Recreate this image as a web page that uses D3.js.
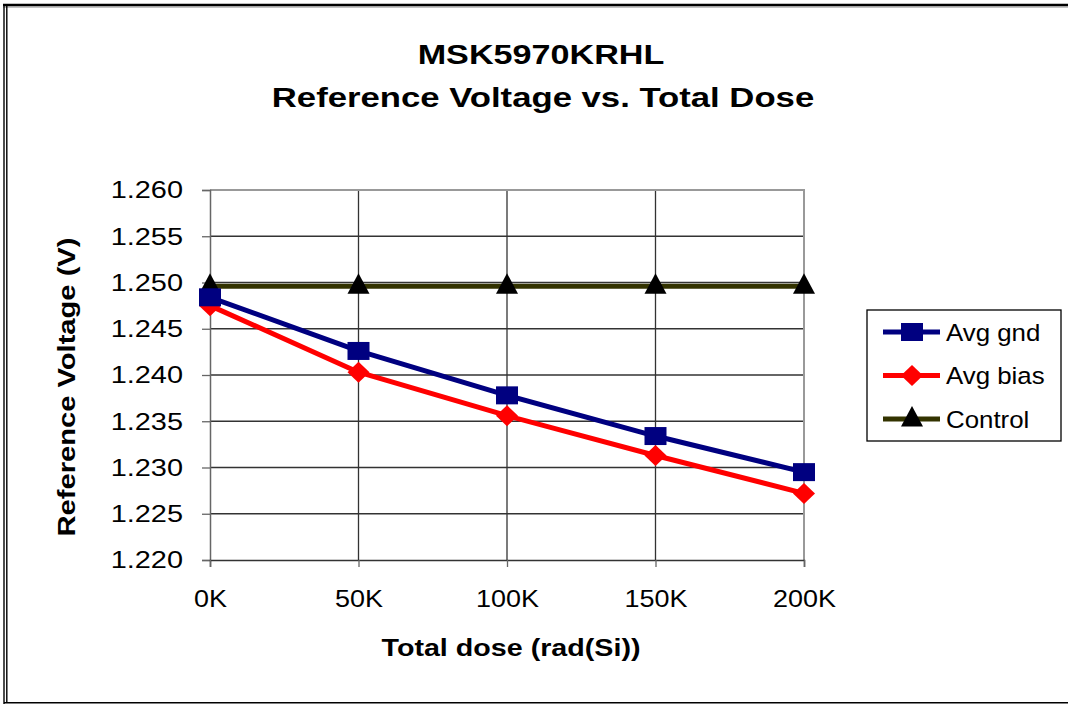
<!DOCTYPE html>
<html><head><meta charset="utf-8">
<script src="https://cdn.jsdelivr.net/npm/d3@7"></script>
<style>
body{margin:0;background:#fff;overflow:hidden;}
svg{display:block;font-family:"Liberation Sans",Arial,sans-serif;}
</style></head>
<body>
<svg id="c" width="1068" height="704"></svg>
<script>
const categories = ["0K","50K","100K","150K","200K"];
const doses = [0, 50, 100, 150, 200];
const avgGnd = [1.2484, 1.2426, 1.2378, 1.2334, 1.2295];
const avgBias = [1.2475, 1.2403, 1.2356, 1.2313, 1.2272];
const control = [1.2496, 1.2496, 1.2496, 1.2496, 1.2496];
const yTicks = [1.220,1.225,1.230,1.235,1.240,1.245,1.250,1.255,1.260];
const seriesNames = ["Avg gnd","Avg bias","Control"];

const svg = d3.select("#c");
// stretch helper: text drawn with horizontal stretch around its anchor
function stretch(sel, sx){
  sel.each(function(){
    const t = d3.select(this);
    const x0 = +t.attr("x")||0, y0 = +t.attr("y")||0;
    const prev = t.attr("transform")||"";
    t.attr("x",0).attr("y",0).attr("transform",`${prev} translate(${x0},${y0}) scale(${sx},1)`);
  });
}

// outer frame
svg.append("line").attr("x1",3).attr("x2",1068).attr("y1",5).attr("y2",5).attr("stroke","#000").attr("stroke-width",2.6);
svg.append("line").attr("x1",3).attr("x2",1068).attr("y1",7).attr("y2",7).attr("stroke","#888").attr("stroke-width",1);
svg.append("line").attr("x1",4).attr("x2",4).attr("y1",4).attr("y2",704).attr("stroke","#000").attr("stroke-width",1.4);
svg.append("line").attr("x1",6.8).attr("x2",6.8).attr("y1",6).attr("y2",703).attr("stroke","#000").attr("stroke-width",1.4);
svg.append("line").attr("x1",4).attr("x2",1068).attr("y1",702.8).attr("y2",702.8).attr("stroke","#000").attr("stroke-width",1.4);

const L=210, R=804, T=190, B=560;
const x = d3.scalePoint().domain(doses).range([L,R]);
const y = d3.scaleLinear().domain([1.220,1.260]).range([B,T]);

// gridlines
svg.append("g").selectAll("line").data(yTicks.slice(1,-1)).join("line")
  .attr("x1",L).attr("x2",R).attr("y1",d=>y(d)).attr("y2",d=>y(d))
  .attr("stroke","#333").attr("stroke-width",1.3);
svg.append("g").selectAll("line").data(doses.slice(1,-1)).join("line")
  .attr("x1",d=>x(d)).attr("x2",d=>x(d)).attr("y1",T).attr("y2",B)
  .attr("stroke","#333").attr("stroke-width",1.3);
// plot border top/right
svg.append("path").attr("d",`M${L},${T}H${R}V${B}`).attr("fill","none").attr("stroke","#999").attr("stroke-width",2);

// axes
const yAxis = svg.append("g").attr("transform",`translate(${L},0)`)
  .call(d3.axisLeft(y).tickValues(yTicks).tickFormat(d3.format(".3f")).tickSize(8).tickPadding(19));
const xAxis = svg.append("g").attr("transform",`translate(0,${B})`)
  .call(d3.axisBottom(x).tickFormat((d,i)=>categories[i]).tickSize(7).tickPadding(23));
[yAxis,xAxis].forEach(g=>{
  g.select(".domain").attr("stroke","#666").attr("stroke-width",1.5);
  g.selectAll(".tick line").attr("stroke","#666").attr("stroke-width",1.3);
  g.selectAll("text").attr("font-size",24.5).attr("fill","#000").attr("font-family","Liberation Sans, Arial, sans-serif");
});
xAxis.select(".domain").attr("stroke","#333");
xAxis.selectAll(".tick text").attr("dy","0.71em");
stretch(yAxis.selectAll(".tick text"),1.18);
stretch(xAxis.selectAll(".tick text"),1.1);

// title
const t1 = svg.append("text").attr("x",541).attr("y",64).attr("text-anchor","middle")
  .attr("font-size",28).attr("font-weight","bold").text("MSK5970KRHL");
const t2 = svg.append("text").attr("x",543).attr("y",107).attr("text-anchor","middle")
  .attr("font-size",28).attr("font-weight","bold").text("Reference Voltage vs. Total Dose");
stretch(t1,1.22); stretch(t2,1.24);
// axis titles
const xt = svg.append("text").attr("x",511).attr("y",656).attr("text-anchor","middle")
  .attr("font-size",24.5).attr("font-weight","bold").text("Total dose (rad(Si))");
stretch(xt,1.17);
svg.append("text").attr("transform","translate(75,387) rotate(-90) scale(1.19,1)").attr("text-anchor","middle")
  .attr("font-size",24.5).attr("font-weight","bold").text("Reference Voltage (V)");

// markers (custom shapes, slightly wider than tall like the source)
const shapes = {
  square: "M-11,-9H11V9H-11Z",
  diamond: "M0,-10.5L11,0L0,10.5L-11,0Z",
  triangle: "M0,-13L11,7.5H-11Z"
};
const line = d3.line().x((d,i)=>x(doses[i])).y(d=>y(d));
const series = [
  {name:seriesNames[0], vals:avgGnd, color:"#000080", mfill:"#000080", shape:shapes.square},
  {name:seriesNames[1], vals:avgBias, color:"#FF0000", mfill:"#FF0000", shape:shapes.diamond},
  {name:seriesNames[2], vals:control, color:"#333300", mfill:"#000000", shape:shapes.triangle},
];
series.slice().reverse().forEach(s=>{
  svg.append("path").datum(s.vals).attr("d",line).attr("fill","none")
    .attr("stroke",s.color).attr("stroke-width",5).attr("stroke-linejoin","round");
});
series.slice().reverse().forEach(s=>{
  svg.append("g").selectAll("path").data(s.vals).join("path")
    .attr("transform",(d,i)=>`translate(${x(doses[i])},${y(d)})`)
    .attr("d",s.shape).attr("fill",s.mfill);
});

// legend
const lg = svg.append("g");
lg.append("rect").attr("x",867).attr("y",310).attr("width",194).attr("height",131)
  .attr("fill","#fff").attr("stroke","#000").attr("stroke-width",1.3);
series.forEach((s,i)=>{
  const cy = 332 + i*43.5;
  lg.append("line").attr("x1",883).attr("x2",940).attr("y1",cy).attr("y2",cy)
    .attr("stroke",s.color).attr("stroke-width",5);
  lg.append("path").attr("transform",`translate(912,${cy})`).attr("d",s.shape).attr("fill",s.mfill);
  const lt = lg.append("text").attr("x",946).attr("y",cy+8.5).attr("font-size",23.5).text(s.name);
  stretch(lt,1.1);
});
</script>
</body></html>
